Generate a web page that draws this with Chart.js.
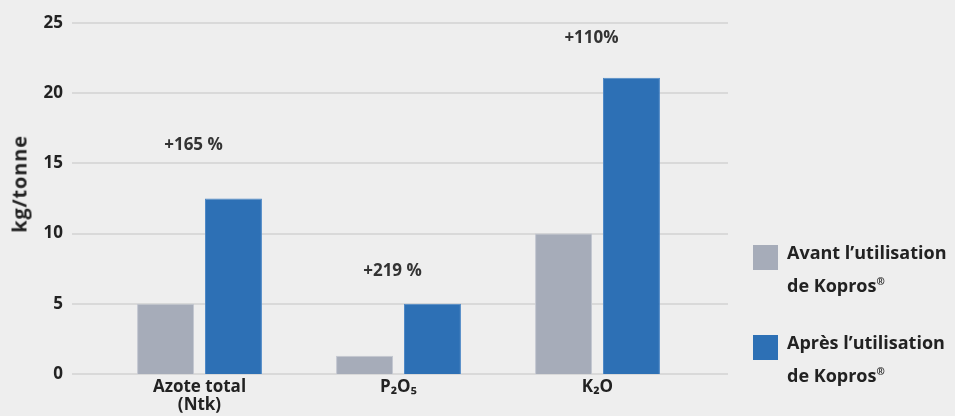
<!DOCTYPE html>
<html>
<head>
<meta charset="utf-8">
<script src="https://cdn.jsdelivr.net/npm/chart.js@4"></script>
<style>
  html, body { margin:0; padding:0; background:#eeeeee; }
  #wrap { position:relative; width:955px; height:416px; }
  #ytitle {
    position:absolute; left:19px; top:184px; transform:translate(-50%,-50%) rotate(-90deg);
    font:bold 20px "Open Sans", sans-serif; letter-spacing:0.8px; color:#222; white-space:nowrap;
  }
  .leg { position:absolute; left:753px; font:bold 18px "Open Sans", sans-serif; color:#222; line-height:29px; }
  .leg i { position:absolute; left:0; top:0; width:25px; height:25px; }
  .leg span { position:absolute; left:34px; top:-7px; white-space:nowrap; }
  .leg sup { font-size:10px; vertical-align:7px; }
</style>
</head>
<body>
<div id="wrap">
  <canvas id="c" width="955" height="416"></canvas>
  <div id="ytitle">kg/tonne</div>
  <div class="leg" style="top:245px"><i style="background:#a6acb9"></i><span>Avant l’utilisation<br>de Kopros<sup>®</sup></span></div>
  <div class="leg" style="top:335px"><i style="background:#2d70b5"></i><span>Après l’utilisation<br>de Kopros<sup>®</sup></span></div>
</div>
<script>
// ---- data ----
const categories = [['Azote total', '(Ntk)'], 'P₂O₅', 'K₂O'];
const avant      = [5.0, 1.3, 10.0];
const apres      = [12.5, 5.0, 21.1];
const gainLabels = ['+165 %', '+219 %', '+110%'];
const gainAt     = [16.3, 7.3, 23.9];   // value level of the label
const yTicks     = [0, 5, 10, 15, 20, 25];

const FONT = '"Open Sans", sans-serif';

// gridlines wider than the bar area
const gridPlugin = {
  id: 'wideGrid',
  beforeDatasetsDraw(chart) {
    const {ctx, scales:{y}} = chart;
    ctx.save();
    ctx.strokeStyle = '#d9d9d9';
    ctx.lineWidth = 2;
    yTicks.forEach(v => {
      const py = Math.round(y.getPixelForValue(v));
      ctx.beginPath(); ctx.moveTo(72, py); ctx.lineTo(728, py); ctx.stroke();
    });
    ctx.restore();
  }
};

// percentage labels above each group
const gainPlugin = {
  id: 'gains',
  afterDatasetsDraw(chart) {
    const {ctx, scales:{x, y}} = chart;
    ctx.save();
    ctx.font = 'bold 17px ' + FONT;
    ctx.fillStyle = '#333';
    ctx.textAlign = 'center';
    ctx.textBaseline = 'middle';
    gainLabels.forEach((t, i) => {
      ctx.fillText(t, x.getPixelForValue(i) - 6, y.getPixelForValue(gainAt[i]));
    });
    ctx.restore();
  }
};

new Chart(document.getElementById('c'), {
  type: 'bar',
  data: {
    labels: categories,
    datasets: [
      { label: 'Avant l’utilisation de Kopros®', data: avant,
        backgroundColor: '#a6acb9', borderColor: '#c3c7d0', borderWidth: 1 },
      { label: 'Après l’utilisation de Kopros®', data: apres,
        backgroundColor: '#2d70b5', borderColor: '#4f89c6', borderWidth: 1 }
    ]
  },
  options: {
    responsive: false,
    animation: false,
    layout: { padding: { top: 23, right: 258, left: 0, bottom: 0 } },
    datasets: { bar: { categoryPercentage: 0.683, barPercentage: 0.838 } },
    plugins: { legend: { display: false }, tooltip: { enabled: false } },
    scales: {
      x: {
        grid: { display: false, drawTicks: false },
        border: { display: false },
        ticks: { color: '#222', font: { family: FONT, size: 17, weight: 'bold', lineHeight: 1.08 }, padding: 4, maxRotation: 0 },
        afterFit: s => { s.height = 42; s.paddingLeft = 0; s.paddingRight = 0; }
      },
      y: {
        min: 0, max: 25,
        afterBuildTicks: s => { s.ticks = yTicks.map(v => ({ value: v })); },
        grid: { display: false, drawTicks: false },
        border: { display: false },
        ticks: { color: '#222', font: { family: FONT, size: 17, weight: 'bold' }, padding: 37 },
        afterFit: s => { s.width = 100; s.paddingTop = 0; s.paddingBottom = 0; }
      }
    }
  },
  plugins: [gridPlugin, gainPlugin]
});
</script>
</body>
</html>
